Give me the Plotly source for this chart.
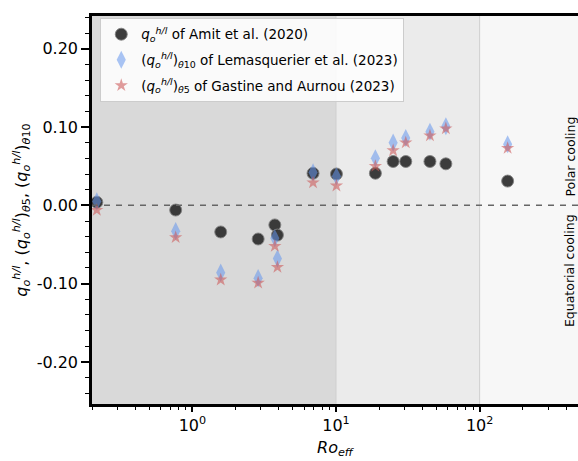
import math
import plotly.graph_objects as go

# Effective Rossby number for each simulation
ro_eff = [0.216, 0.765, 1.575, 2.87, 3.75, 3.91, 6.92, 10.07, 18.8, 25.0, 30.6, 45.1, 58.2, 156.7]
# q_o^{h/l} of Amit et al. (2020)
q_amit = [0.004, -0.006, -0.034, -0.043, -0.025, -0.038, 0.041, 0.040, 0.041, 0.056, 0.056, 0.056, 0.053, 0.031]
# (q_o^{h/l})_theta10 of Lemasquerier et al. (2023)
q_lem = [0.005, -0.033, -0.086, -0.093, -0.042, -0.068, 0.042, 0.037, 0.060, 0.080, 0.086, 0.094, 0.101, 0.078]
# (q_o^{h/l})_theta5 of Gastine and Aurnou (2023)
q_ga = [-0.006, -0.041, -0.095, -0.099, -0.052, -0.079, 0.029, 0.025, 0.050, 0.070, 0.080, 0.089, 0.098, 0.073]

y_ticks = [-0.2, -0.1, 0.0, 0.1, 0.2]
y_ticktext = ["-0.20", "-0.10", "0.00", "0.10", "0.20"]
x_ticks = [1, 10, 100]
x_ticktext = ["10<sup>0</sup>", "10<sup>1</sup>", "10<sup>2</sup>"]
regime_bounds = [0.2, 10, 100]

FONT = "DejaVu Sans"
q = "<i>q</i><sub><i>o</i></sub><sup><i>h/l</i></sup>"

fig = go.Figure()

fig.add_trace(go.Scatter(
    x=ro_eff, y=q_amit, mode="markers", legendgroup="a",
    name=f"{q} of Amit et al. (2020)",
    marker=dict(symbol="circle", size=12, color="rgba(45,45,45,0.92)",
                line=dict(color="rgba(130,130,130,0.9)", width=1)),
))
fig.add_trace(go.Scatter(
    x=ro_eff, y=q_lem, mode="markers", legendgroup="b",
    name=f"({q})<sub><i>θ</i>10</sub> of Lemasquerier et al. (2023)",
    marker=dict(symbol="diamond-tall", size=13, color="rgba(100,149,237,0.55)",
                line=dict(width=0)),
))
fig.add_trace(go.Scatter(
    x=ro_eff, y=q_ga, mode="markers", legendgroup="c",
    name=f"({q})<sub><i>θ</i>5</sub> of Gastine and Aurnou (2023)",
    marker=dict(symbol="star", size=10, color="rgba(205,92,92,0.6)",
                line=dict(width=0)),
))

# regime shading
fig.add_vrect(x0=regime_bounds[0] / 2, x1=regime_bounds[1], fillcolor="#d9d9d9",
              line_width=0, layer="below")
fig.add_vrect(x0=regime_bounds[1], x1=regime_bounds[2], fillcolor="#ebebeb",
              line_width=0, layer="below")
for xb in regime_bounds[1:]:
    fig.add_vline(x=xb, line=dict(color="#cfcfcf", width=1), layer="below")

fig.add_hline(y=0, line=dict(color="#666666", width=1.5, dash="6px,6px"))

fig.add_annotation(x=0.984, xref="paper", y=0, yref="y", text="Polar cooling",
                   textangle=-90, showarrow=False, xanchor="center", yanchor="bottom",
                   yshift=7, font=dict(family=FONT, size=12.5, color="black"))
fig.add_annotation(x=0.984, xref="paper", y=0, yref="y", text="Equatorial cooling",
                   textangle=-90, showarrow=False, xanchor="center", yanchor="top",
                   yshift=-7, font=dict(family=FONT, size=12.5, color="black"))

fig.update_layout(
    width=578, height=461,
    margin=dict(l=92, r=0, t=16, b=57),
    plot_bgcolor="#f7f7f7", paper_bgcolor="white",
    font=dict(family=FONT, size=16, color="black"),
    showlegend=True,
    legend=dict(x=0.017, y=0.995, xanchor="left", yanchor="top",
                bgcolor="rgba(255,255,255,0.85)", bordercolor="#cccccc", borderwidth=1,
                font=dict(family=FONT, size=13.5), tracegroupgap=5),
    xaxis=dict(
        type="log", range=[math.log10(0.2), 2.685],
        tickvals=x_ticks, ticktext=x_ticktext,
        ticks="outside", ticklen=5, tickwidth=1.5, tickcolor="black",
        showline=True, linewidth=2.5, linecolor="black", mirror=True,
        showgrid=False, zeroline=False,
        minor=dict(ticks="outside", ticklen=3, tickwidth=1, tickcolor="black",
                   dtick="D1", showgrid=False),
        title=dict(text="<i>Ro</i><sub><i>eff</i></sub>", font=dict(size=16), standoff=8),
        tickfont=dict(size=16),
    ),
    yaxis=dict(
        range=[-0.2537, 0.2418],
        tickvals=y_ticks, ticktext=y_ticktext,
        ticks="outside", ticklen=8, tickwidth=1.5, tickcolor="black",
        showline=True, linewidth=2.5, linecolor="black", mirror=False,
        showgrid=False, zeroline=False,
        minor=dict(ticks="outside", ticklen=4, tickwidth=1, tickcolor="black",
                   dtick=0.02, tick0=0, showgrid=False),
        title=dict(text=f"{q}, ({q})<sub><i>θ</i>5</sub>, ({q})<sub><i>θ</i>10</sub>",
                   font=dict(size=16), standoff=6),
        tickfont=dict(size=16),
    ),
)

fig.write_html("out.html")
